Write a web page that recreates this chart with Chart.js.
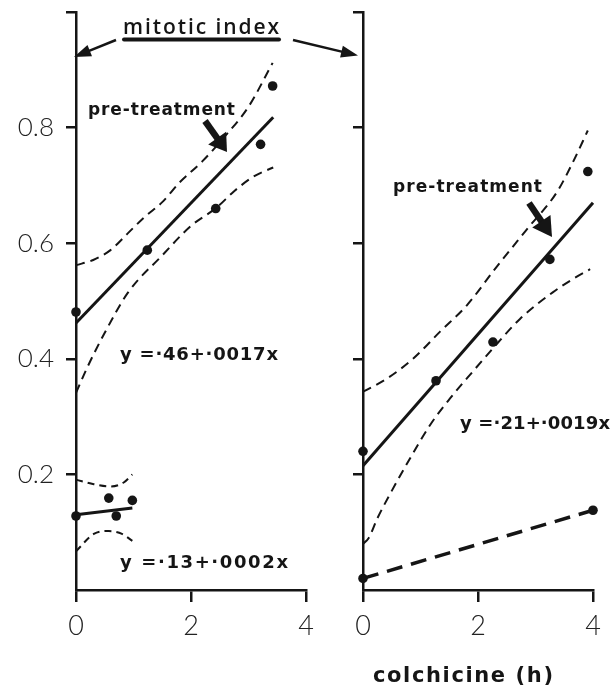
<!DOCTYPE html>
<html>
<head>
<meta charset="utf-8">
<script src="https://cdn.jsdelivr.net/npm/chart.js@4.4.1/dist/chart.umd.min.js"></script>
<style>
  html, body { margin: 0; padding: 0; background: #fff; }
  #wrap { position: relative; width: 614px; height: 689px; }
  #wrap canvas { position: absolute; left: 0; top: 0; }
</style>
</head>
<body>
<div id="wrap">
  <canvas id="leftChart" width="614" height="689"></canvas>
  <canvas id="rightChart" width="614" height="689"></canvas>
</div>
<script>
// axis ticks: colchicine time (h) and mitotic index
const hourTicks = [0, 2, 4];
const indexTicks = [0, 0.2, 0.4, 0.6, 0.8, 1.0];
const indexLabels = [0.2, 0.4, 0.6, 0.8];

// left panel, pre-treatment group
const preLeftHours = [0, 1.24, 2.43, 3.21, 3.42];
const preLeftIndex = [0.481, 0.588, 0.660, 0.771, 0.872];
const preLeftFitHours = [0, 3.43];
const preLeftFitIndex = [0.462, 0.818];
const preLeftUpperHours = [0, 0.3, 0.6, 0.9, 1.2, 1.5, 1.8, 2.2, 2.6, 3.0, 3.42];
const preLeftUpperIndex = [0.562, 0.571, 0.588, 0.617, 0.646, 0.671, 0.705, 0.742, 0.786, 0.836, 0.912];
const preLeftLowerHours = [0, 0.2, 0.5, 0.9, 1.5, 2.0, 2.45, 2.75, 3.1, 3.43];
const preLeftLowerIndex = [0.341, 0.386, 0.445, 0.514, 0.579, 0.630, 0.662, 0.690, 0.716, 0.731];

// left panel, low group
const lowHours = [0, 0.57, 0.70, 0.98];
const lowIndex = [0.128, 0.159, 0.128, 0.155];
const lowFitHours = [0, 0.98];
const lowFitIndex = [0.130, 0.142];
const lowUpperHours = [0, 0.31, 0.6, 0.83, 0.98];
const lowUpperIndex = [0.191, 0.183, 0.179, 0.186, 0.200];
const lowLowerHours = [0, 0.31, 0.57, 0.8, 0.98];
const lowLowerIndex = [0.067, 0.097, 0.102, 0.097, 0.085];

// right panel, pre-treatment group
const preRightHours = [0, 1.27, 2.26, 3.25, 3.91];
const preRightIndex = [0.240, 0.362, 0.429, 0.572, 0.724];
const preRightFitHours = [0, 4];
const preRightFitIndex = [0.215, 0.670];
const preRightUpperHours = [0, 0.42, 0.87, 1.34, 1.81, 2.3, 2.85, 3.37, 3.65, 3.91];
const preRightUpperIndex = [0.343, 0.366, 0.400, 0.447, 0.493, 0.556, 0.624, 0.688, 0.740, 0.795];
const preRightLowerHours = [0, 0.1, 0.25, 0.47, 0.82, 1.17, 1.51, 1.91, 2.33, 2.73, 3.3, 3.65, 3.95];
const preRightLowerIndex = [0.080, 0.090, 0.124, 0.166, 0.228, 0.286, 0.331, 0.378, 0.426, 0.469, 0.515, 0.538, 0.555];

// right panel, baseline line
const baseHours = [0, 4];
const baseIndex = [0.020, 0.138];

const INK = '#151515';
const pts = (xs, ys) => xs.map((x, i) => ({ x: x, y: ys[i] }));

function dots(xs, ys) {
  return { data: pts(xs, ys), showLine: false, pointRadius: 4.8, pointBackgroundColor: INK,
           pointBorderWidth: 0, clip: false };
}
function solid(xs, ys) {
  return { data: pts(xs, ys), showLine: true, borderColor: INK, borderWidth: 3,
           pointRadius: 0, clip: false };
}
function dashed(xs, ys, width, dash) {
  return { data: pts(xs, ys), showLine: true, borderColor: INK, borderWidth: width,
           borderDash: dash, pointRadius: 0, cubicInterpolationMode: 'monotone', clip: false };
}

const TICK_FONT = 'Lato, "Liberation Sans", sans-serif';

function scales(yAxisWidth, withLabels) {
  return {
    x: {
      type: 'linear', min: 0, max: 4,
      afterBuildTicks: s => { s.ticks = hourTicks.map(v => ({ value: v })); },
      afterFit: s => { s.height = 99; s.paddingLeft = 0; s.paddingRight = 0; },
      grid: { drawOnChartArea: false, drawTicks: true, tickLength: 12, lineWidth: 2.5, color: INK },
      border: { display: true, color: INK, width: 2.5 },
      ticks: { color: '#222', padding: 8, maxRotation: 0,
               font: { family: TICK_FONT, size: 27, weight: 300 } }
    },
    y: {
      type: 'linear', min: 0, max: 1,
      afterBuildTicks: s => { s.ticks = indexTicks.map(v => ({ value: v })); },
      afterFit: s => { s.width = yAxisWidth; s.paddingTop = 0; s.paddingBottom = 0; },
      grid: { drawOnChartArea: false, drawTicks: true, tickLength: 10, lineWidth: 2.5,
              color: INK, tickColor: c => (c.tick && c.tick.value === 0) ? 'rgba(0,0,0,0)' : INK },
      border: { display: true, color: INK, width: 2.5 },
      ticks: {
        color: '#222', padding: 12,
        font: { family: TICK_FONT, size: 26, weight: 300 },
        callback: v => (withLabels && indexLabels.includes(v)) ? v.toFixed(1) : ''
      }
    }
  };
}

function spacedText(ctx, str, x, baseline, width, font) {
  ctx.font = font;
  ctx.letterSpacing = '0px';
  const w0 = ctx.measureText(str).width;
  ctx.letterSpacing = ((width - w0) / (str.length - 1)) + 'px';
  ctx.textAlign = 'left';
  ctx.textBaseline = 'alphabetic';
  ctx.fillText(str, x, baseline);
  ctx.letterSpacing = '0px';
}

function arrow(ctx, x1, y1, x2, y2, lw, headLen, headW) {
  const a = Math.atan2(y2 - y1, x2 - x1);
  const c = Math.cos(a), s = Math.sin(a);
  ctx.lineWidth = lw;
  ctx.lineCap = 'butt';
  ctx.beginPath();
  ctx.moveTo(x1, y1);
  ctx.lineTo(x2 - headLen * 0.8 * c, y2 - headLen * 0.8 * s);
  ctx.stroke();
  ctx.beginPath();
  ctx.moveTo(x2, y2);
  ctx.lineTo(x2 - headLen * c + headW / 2 * s, y2 - headLen * s - headW / 2 * c);
  ctx.lineTo(x2 - headLen * c - headW / 2 * s, y2 - headLen * s + headW / 2 * c);
  ctx.closePath();
  ctx.fill();
}

const BOLD = 'bold 17px "DejaVu Sans", sans-serif';
const EQ = 'bold 18px "DejaVu Sans", sans-serif';

// labels and arrows of the left panel, plus the shared heading
const leftNotes = {
  id: 'leftNotes',
  afterDraw(chart) {
    const ctx = chart.ctx;
    ctx.save();
    ctx.fillStyle = INK;
    ctx.strokeStyle = INK;
    spacedText(ctx, 'mitotic index', 123, 34, 156, '600 21px "Open Sans", "DejaVu Sans", sans-serif');
    ctx.lineWidth = 4;
    ctx.lineCap = 'round';
    ctx.beginPath(); ctx.moveTo(124, 39.5); ctx.lineTo(279, 39.5); ctx.stroke();
    arrow(ctx, 116, 40, 74, 57, 2.5, 17, 12);
    arrow(ctx, 293, 40, 358, 55.5, 2.5, 17, 12);

    spacedText(ctx, 'pre-treatment', 88, 115, 147, BOLD);
    arrow(ctx, 205, 121, 227, 152, 6.5, 17, 22);
    spacedText(ctx, 'y =\u00b746+\u00b70017x', 120, 360, 158, EQ);
    spacedText(ctx, 'y =\u00b713+\u00b70002x', 120, 568, 168, EQ);
    ctx.restore();
  }
};

// labels and arrow of the right panel, plus the time axis title
const rightNotes = {
  id: 'rightNotes',
  afterDraw(chart) {
    const ctx = chart.ctx;
    ctx.save();
    ctx.fillStyle = INK;
    ctx.strokeStyle = INK;
    spacedText(ctx, 'pre-treatment', 393, 192, 149, BOLD);
    arrow(ctx, 529, 203, 552, 237, 6.5, 19, 22);
    spacedText(ctx, 'y =\u00b721+\u00b70019x', 460, 429, 150, EQ);
    spacedText(ctx, 'colchicine (h)', 373, 682, 180, 'bold 21px "DejaVu Sans", sans-serif');
    ctx.restore();
  }
};

const common = {
  responsive: false,
  animation: false,
  events: [],
  plugins: { legend: { display: false }, tooltip: { enabled: false } }
};

new Chart(document.getElementById('leftChart'), {
  type: 'scatter',
  data: {
    datasets: [
      dashed(preLeftUpperHours, preLeftUpperIndex, 2, [9, 6]),
      dashed(preLeftLowerHours, preLeftLowerIndex, 2, [9, 6]),
      solid(preLeftFitHours, preLeftFitIndex),
      dots(preLeftHours, preLeftIndex),
      dashed(lowUpperHours, lowUpperIndex, 2, [7, 5]),
      dashed(lowLowerHours, lowLowerIndex, 2, [7, 5]),
      solid(lowFitHours, lowFitIndex),
      dots(lowHours, lowIndex)
    ]
  },
  options: Object.assign({}, common, {
    layout: { padding: { left: 0, top: 12, right: 308, bottom: 0 } },
    scales: scales(76, true)
  }),
  plugins: [leftNotes]
});

new Chart(document.getElementById('rightChart'), {
  type: 'scatter',
  data: {
    datasets: [
      dashed(preRightUpperHours, preRightUpperIndex, 2, [9, 6]),
      dashed(preRightLowerHours, preRightLowerIndex, 2, [9, 6]),
      solid(preRightFitHours, preRightFitIndex),
      dots(preRightHours, preRightIndex),
      Object.assign(dashed(baseHours, baseIndex, 3.5, [16, 9]), { cubicInterpolationMode: 'default' }),
      dots(baseHours, baseIndex)
    ]
  },
  options: Object.assign({}, common, {
    layout: { padding: { left: 0, top: 12, right: 21, bottom: 0 } },
    scales: scales(363, false)
  }),
  plugins: [rightNotes]
});
</script>
</body>
</html>
